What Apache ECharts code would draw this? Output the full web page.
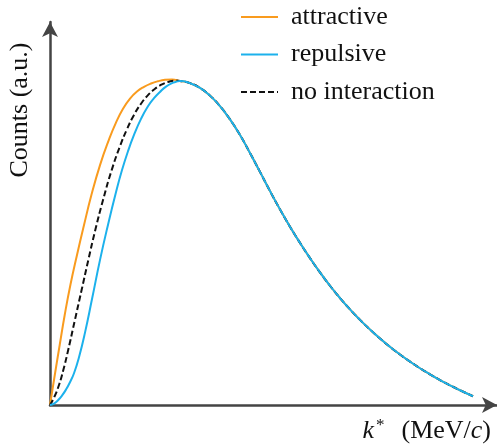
<!DOCTYPE html>
<html><head><meta charset="utf-8">
<script src="https://cdn.jsdelivr.net/npm/echarts@6/dist/echarts.min.js"></script>
<style>html,body{margin:0;padding:0;background:#fff}#c{width:497px;height:444px}</style>
</head><body><div id="c"></div>
<script>
const seriesNames = ['attractive', 'repulsive', 'no interaction'];
const attractiveRise = [[0,0],[1.07,7.85],[2.17,15.71],[3.29,23.56],[4.56,31.41],[6.04,39.27],[7.61,47.12],[9.26,54.97],[11.19,62.83],[13.15,69.37],[14.76,73.95],[16.33,77.57],[17.90,80.26],[19.46,82.09],[21.03,83.32],[22.59,84.19],[24.16,84.79],[25.73,85.16],[27.29,85.26]];
const noInteractionRise = [[0,0],[0.96,2.09],[2.01,5.24],[2.98,9.16],[4.07,14.40],[5.57,22.25],[7.07,30.10],[8.57,37.96],[10.13,45.81],[11.86,53.66],[13.80,61.52],[15.75,68.06],[17.23,72.25],[18.79,75.97],[20.36,78.90],[21.92,81.15],[23.49,82.80],[25.06,83.95],[26.62,84.66],[28.19,84.97]];
const repulsiveRise = [[0,0],[0.89,0.37],[1.79,1.26],[2.68,2.46],[3.58,4.03],[4.47,5.97],[5.37,8.32],[6.49,12.51],[7.83,18.95],[9.40,27.75],[11.19,38.01],[12.98,47.23],[14.76,55.71],[16.11,61.52],[17.45,66.47],[18.79,70.71],[20.36,74.92],[21.92,78.22],[23.27,80.34],[24.61,81.99],[25.95,83.38],[27.29,84.29],[28.19,84.63]];
const sharedTail = [[29.08,84.87],[31.32,84.29],[33.56,83.04],[35.79,81.02],[38.03,78.25],[40.27,74.79],[42.51,70.71],[44.74,65.99],[46.98,61.05],[49.22,56.02],[51.45,51.23],[53.69,46.70],[55.93,42.46],[58.17,38.46],[60.40,34.71],[62.64,31.23],[64.88,28.01],[67.11,25.05],[69.35,22.30],[71.59,19.76],[73.83,17.41],[76.06,15.24],[78.30,13.22],[80.54,11.36],[82.77,9.63],[85.01,8.04],[87.25,6.54],[89.49,5.16],[91.72,3.87],[94.63,2.30]];
const yAxisTitle = 'Counts (a.u.)';
const xAxisTitle = '{it|k}{sup|*}  (MeV/{it|c})';

const ORANGE = '#f99b1e', BLUE = '#1cb1ec', BLACK = '#111';
const chart = echarts.init(document.getElementById('c'), null, {renderer: 'canvas'});
const axisLine = {show: true, symbol: ['none', 'arrow'], symbolSize: [12, 15], lineStyle: {color: '#444', width: 2.5}};
const lineCommon = {type: 'line', smooth: 0.5, symbol: 'none', showSymbol: false};
chart.setOption({
  animation: false,
  backgroundColor: '#fff',
  grid: {left: 50, right: 0, top: 22, bottom: 39, containLabel: false},
  xAxis: {type: 'value', min: 0, max: 100, axisLine: axisLine, axisTick: {show: false}, axisLabel: {show: false}, splitLine: {show: false}},
  yAxis: {type: 'value', min: 0, max: 100.3, axisLine: axisLine, axisTick: {show: false}, axisLabel: {show: false}, splitLine: {show: false}},
  legend: {
    data: seriesNames, orient: 'vertical', left: 235, top: -2,
    itemWidth: 37, itemHeight: 14, itemGap: 9.5,
    itemStyle: {opacity: 0},
    textStyle: {fontFamily: 'Liberation Serif', fontSize: 26, color: BLACK, lineHeight: 28, padding: [0, 0, 0, 8]}
  },
  series: [
    Object.assign({name: 'attractive', data: attractiveRise.concat(sharedTail),
     lineStyle: {color: ORANGE, width: 2}, itemStyle: {color: ORANGE}, z: 2}, lineCommon),
    Object.assign({name: 'no interaction', data: noInteractionRise.concat(sharedTail),
     lineStyle: {color: BLACK, width: 2, type: [6, 3]}, itemStyle: {color: BLACK}, z: 3}, lineCommon),
    Object.assign({name: 'repulsive', data: repulsiveRise.concat(sharedTail),
     lineStyle: {color: BLUE, width: 2}, itemStyle: {color: BLUE}, z: 4}, lineCommon)
  ],
  graphic: [
    {type: 'text', x: 20, y: 110, rotation: Math.PI / 2,
     style: {text: yAxisTitle, font: '26px "Liberation Serif"', fill: BLACK, align: 'center', verticalAlign: 'middle'}},
    {type: 'text', x: 491, y: 431,
     style: {text: xAxisTitle, font: '26px "Liberation Serif"', fill: BLACK, align: 'right', verticalAlign: 'middle',
       rich: {
         it: {fontFamily: 'Liberation Serif', fontStyle: 'italic', fontSize: 26, fill: BLACK},
         sup: {fontFamily: 'Liberation Serif', fontSize: 17, fill: BLACK, padding: [0, 4, 11, 2]}
       }}}
  ]
});
</script></body></html>
